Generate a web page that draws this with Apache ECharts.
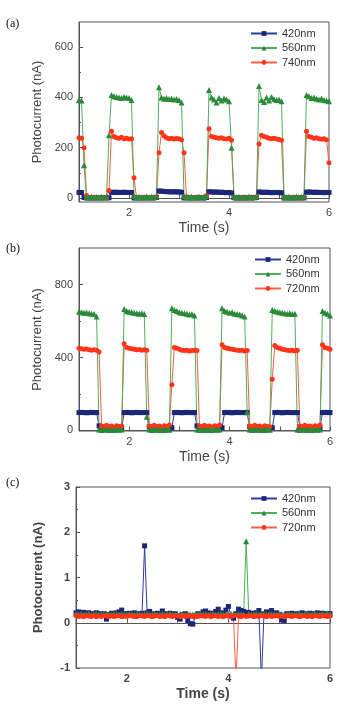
<!DOCTYPE html>
<html>
<head>
<meta charset="utf-8">
<script src="https://cdn.jsdelivr.net/npm/echarts@6/dist/echarts.min.js"></script>
<style>
html, body { margin: 0; padding: 0; background: #fff; }
#chart { width: 339px; height: 706px; }
</style>
</head>
<body>
<div id="chart"></div>
<script>
// sample times (s), shared by all three panels
const times = [
  1.00, 1.05, 1.10, 1.15, 1.20, 1.25, 1.30, 1.35, 1.40, 1.45,
  1.50, 1.55, 1.60, 1.65, 1.70, 1.75, 1.80, 1.85, 1.90, 1.95,
  2.00, 2.05, 2.10, 2.15, 2.20, 2.25, 2.30, 2.35, 2.40, 2.45,
  2.50, 2.55, 2.60, 2.65, 2.70, 2.75, 2.80, 2.85, 2.90, 2.95,
  3.00, 3.05, 3.10, 3.15, 3.20, 3.25, 3.30, 3.35, 3.40, 3.45,
  3.50, 3.55, 3.60, 3.65, 3.70, 3.75, 3.80, 3.85, 3.90, 3.95,
  4.00, 4.05, 4.10, 4.15, 4.20, 4.25, 4.30, 4.35, 4.40, 4.45,
  4.50, 4.55, 4.60, 4.65, 4.70, 4.75, 4.80, 4.85, 4.90, 4.95,
  5.00, 5.05, 5.10, 5.15, 5.20, 5.25, 5.30, 5.35, 5.40, 5.45,
  5.50, 5.55, 5.60, 5.65, 5.70, 5.75, 5.80, 5.85, 5.90, 5.95,
  6.00
];

// (a)
const a420 = [
  22, 22, 2, 0, 1, 0, 1, 0, 1, 0,
  1, 0, 1, 23, 22, 23, 22, 22, 23, 22,
  22, 22, 0, 1, 0, 1, 0, 1, 0, 1,
  0, 2, 28, 27, 26, 25, 25, 24, 25, 24,
  24, 23, 0, 1, 0, 1, 0, 1, 0, 1,
  0, 2, 25, 24, 23, 24, 22, 23, 22, 21,
  22, 20, 1, 0, 1, 0, 1, 0, 1, 0,
  1, 2, 24, 23, 22, 23, 22, 21, 22, 22,
  21, 21, 0, 1, 0, 1, 0, 1, 0, 1,
  0, 23, 24, 23, 22, 23, 22, 22, 21, 22,
  22
];
const a560 = [
  390, 388, 130, 5, 3, 6, 2, 4, 3, 5,
  4, 6, 250, 410, 405, 402, 400, 398, 402, 400,
  398, 390, 8, 3, 5, 2, 4, 6, 3, 5,
  4, 6, 440, 400, 395, 398, 394, 396, 392, 394,
  390, 380, 8, 4, 3, 5, 2, 4, 6, 3,
  5, 8, 430, 400, 392, 380, 398, 388, 396, 392,
  385, 200, 6, 3, 5, 2, 4, 3, 6, 4,
  3, 6, 445, 390, 382, 400, 388, 402, 394, 390,
  392, 385, 6, 3, 5, 2, 4, 6, 3, 5,
  8, 410, 405, 398, 400, 395, 392, 396, 390, 388,
  385
];
const a740 = [
  240, 238, 200, 10, 2, 0, 3, 1, 2, 0,
  2, 1, 30, 265, 245, 240, 238, 242, 236, 238,
  235, 236, 80, 2, 0, 2, 1, 0, 2, 1,
  0, 5, 180, 260, 248, 240, 236, 238, 235, 237,
  236, 232, 180, 5, 1, 0, 2, 0, 1, 2,
  0, 10, 275, 245, 242, 240, 238, 240, 236, 235,
  238, 230, 2, 0, 1, 2, 0, 1, 2, 0,
  1, 5, 215, 250, 245, 242, 238, 236, 238, 235,
  233, 230, 2, 0, 1, 2, 0, 1, 2, 0,
  3, 265, 245, 242, 238, 240, 236, 234, 236, 232,
  140
];

// (b)
const b420 = [
  98, 99, 98, 97, 98, 99, 98, 98, 25, 18,
  15, 16, 15, 14, 15, 16, 15, 15, 98, 99,
  98, 97, 98, 99, 98, 98, 98, 98, 20, 15,
  16, 15, 14, 15, 16, 15, 15, 15, 98, 99,
  98, 97, 98, 99, 98, 98, 98, 25, 15, 16,
  15, 14, 15, 16, 15, 15, 15, 15, 98, 99,
  98, 97, 98, 99, 98, 98, 98, 98, 20, 15,
  16, 15, 14, 15, 16, 15, 15, 15, 98, 99,
  98, 97, 98, 99, 98, 98, 98, 98, 20, 15,
  16, 15, 14, 15, 16, 15, 15, 98, 99, 98,
  98
];
const b560 = [
  650, 648, 645, 646, 642, 640, 638, 625, 5, 3,
  6, 4, 2, 5, 3, 6, 4, 5, 665, 655,
  650, 648, 645, 642, 640, 643, 638, 75, 5, 3,
  6, 4, 2, 5, 3, 6, 4, 670, 660, 655,
  648, 645, 642, 640, 635, 638, 630, 5, 3, 6,
  4, 2, 5, 3, 6, 4, 5, 670, 655, 650,
  645, 648, 640, 638, 635, 630, 625, 100, 5, 3,
  6, 4, 2, 5, 3, 6, 4, 660, 655, 650,
  648, 645, 642, 640, 643, 638, 640, 5, 3, 6,
  4, 2, 5, 3, 6, 4, 5, 655, 645, 640,
  630
];
const b720 = [
  450, 448, 445, 446, 442, 440, 443, 440, 430, 25,
  20, 28, 22, 25, 18, 26, 22, 25, 475, 455,
  450, 448, 445, 442, 444, 440, 442, 440, 25, 20,
  28, 22, 25, 18, 26, 22, 30, 250, 455, 450,
  445, 440, 438, 440, 436, 438, 440, 438, 25, 20,
  28, 22, 25, 18, 26, 22, 30, 470, 455, 450,
  448, 445, 442, 440, 438, 440, 436, 438, 25, 20,
  28, 22, 25, 18, 26, 22, 20, 280, 465, 455,
  450, 445, 442, 440, 438, 440, 436, 440, 25, 20,
  28, 22, 25, 18, 26, 22, 30, 470, 455, 450,
  445
];

// (c)
const c420 = [
  0.22, 0.24, 0.20, 0.23, 0.21, 0.22, 0.20, 0.19, 0.22, 0.20,
  0.17, 0.20, 0.08, 0.18, 0.21, 0.20, 0.22, 0.24, 0.28, 0.20,
  0.19, 0.21, 0.20, 0.22, 0.20, 0.19, 0.21, 1.70, 0.22, 0.25,
  0.20, 0.18, 0.21, 0.19, 0.26, 0.20, 0.18, 0.21, 0.19, 0.20,
  0.12, 0.08, 0.18, 0.20, 0.05, -0.02, -0.03, 0.15, 0.20, 0.18,
  0.24, 0.26, 0.22, 0.20, 0.21, 0.25, 0.30, 0.22, 0.20, 0.28,
  0.36, 0.15, 0.10, 0.20, 0.30, 0.27, 0.25, 0.22, 0.23, 0.20,
  0.21, 0.22, 0.27, -1.30, 0.20, 0.24, 0.21, 0.27, 0.20, 0.22,
  0.18, 0.06, 0.05, 0.20, 0.19, 0.21, 0.18, 0.20, 0.19, 0.22,
  0.20, 0.18, 0.21, 0.20, 0.19, 0.22, 0.20, 0.21, 0.19, 0.20,
  0.20
];
const c560 = [
  0.20, 0.19, 0.20, 0.18, 0.19, 0.20, 0.18, 0.19, 0.20, 0.18,
  0.19, 0.18, 0.20, 0.19, 0.18, 0.20, 0.19, 0.18, 0.20, 0.19,
  0.18, 0.20, 0.19, 0.18, 0.20, 0.19, 0.18, 0.19, 0.20, 0.18,
  0.19, 0.20, 0.18, 0.19, 0.20, 0.18, 0.19, 0.20, 0.18, 0.19,
  0.18, 0.20, 0.19, 0.18, 0.20, 0.19, 0.18, 0.19, 0.20, 0.18,
  0.19, 0.20, 0.18, 0.19, 0.20, 0.18, 0.19, 0.20, 0.18, 0.19,
  0.18, 0.20, 0.19, 0.18, 0.20, 0.19, 0.18, 1.80, 0.20, 0.18,
  0.19, 0.20, 0.18, 0.19, 0.20, 0.18, 0.19, 0.20, 0.18, 0.19,
  0.18, 0.20, 0.19, 0.18, 0.20, 0.19, 0.18, 0.19, 0.20, 0.18,
  0.19, 0.20, 0.18, 0.19, 0.20, 0.18, 0.19, 0.20, 0.18, 0.21,
  0.19
];
const c720 = [
  0.16, 0.14, 0.15, 0.13, 0.16, 0.15, 0.14, 0.16, 0.13, 0.15,
  0.14, 0.16, 0.15, 0.13, 0.16, 0.14, 0.15, 0.16, 0.13, 0.15,
  0.14, 0.16, 0.15, 0.14, 0.13, 0.16, 0.15, 0.14, 0.16, 0.15,
  0.13, 0.15, 0.16, 0.14, 0.15, 0.13, 0.16, 0.15, 0.14, 0.16,
  0.15, 0.13, 0.16, 0.14, 0.15, 0.16, 0.13, 0.15, 0.14, 0.16,
  0.15, 0.14, 0.16, 0.13, 0.15, 0.16, 0.14, 0.15, 0.13, 0.16,
  0.15, 0.14, 0.16, -1.30, 0.15, 0.13, 0.16, 0.14, 0.15, 0.16,
  0.13, 0.15, 0.14, 0.16, 0.15, 0.13, 0.16, 0.14, 0.15, 0.16,
  0.14, 0.15, 0.13, 0.16, 0.15, 0.14, 0.16, 0.15, 0.13, 0.15,
  0.16, 0.14, 0.15, 0.13, 0.16, 0.15, 0.14, 0.16, 0.15, 0.14,
  0.15
];

const yMajors = [[0, 200, 400, 600], [0, 400, 800], [-1, 0, 1, 2, 3]];
const yMinors = [[100, 300, 500], [200, 600], [-0.5, 0.5, 1.5, 2.5]];
const yRanges = [[-16, 700], [-3, 1000], [-1, 3]];
const panelTags = ['(a)', '(b)', '(c)'];

const SANS = 'Liberation Sans, Arial, sans-serif';
const AXIS = '#555';
const TEXT = '#444';

const look = {
  '420nm': { symbol: 'rect', size: 5, line: '#2b3c9c', mark: '#1a2778' },
  '560nm': { symbol: 'triangle', size: 6, line: '#4fae5c', mark: '#2a8a3a' },
  '740nm': { symbol: 'circle', size: 5, line: '#ff5c44', mark: '#ff3418' },
  '720nm': { symbol: 'circle', size: 5, line: '#ff5c44', mark: '#ff3418' }
};

const grids = [
  { left: 79, right: 10, top: 22, height: 180 },
  { left: 79, right: 9, top: 248, height: 183 },
  { left: 76, right: 9, top: 487, height: 181 }
];

const pts = vals => vals.map((v, i) => [times[i], v]);

function line(name, vals, g) {
  const s = look[name];
  return {
    type: 'line', name, data: pts(vals),
    xAxisIndex: g, yAxisIndex: g * 2,
    symbol: s.symbol, symbolSize: s.size,
    itemStyle: { color: s.mark },
    lineStyle: { color: s.line, width: 1 },
    emphasis: { disabled: true },
    clip: true
  };
}

const xAxes = grids.map((_, g) => ({
  type: 'value', gridIndex: g, min: 1, max: 6, interval: 1,
  name: 'Time (s)', nameLocation: 'middle', nameGap: 19,
  nameTextStyle: { fontSize: 14, color: TEXT, fontFamily: SANS, fontWeight: g === 2 ? 'bold' : 'normal' },
  axisLine: { lineStyle: { color: AXIS } },
  axisTick: { inside: true, length: 4, lineStyle: { color: AXIS } },
  axisLabel: {
    fontSize: 11, color: TEXT, fontFamily: SANS, margin: 5,
    fontWeight: g === 2 ? 'bold' : 'normal',
    formatter: v => (v % 2 === 0 ? String(v) : '')
  },
  splitLine: { show: false }
}));

const yAxes = [];
grids.forEach((_, g) => {
  yAxes.push({
    type: 'value', gridIndex: g, position: 'left',
    min: yRanges[g][0], max: yRanges[g][1],
    name: 'Photocurrent (nA)', nameLocation: 'middle', nameGap: g === 2 ? 31 : 34,
    nameTextStyle: { fontSize: 13, color: TEXT, fontFamily: SANS, fontWeight: g === 2 ? 'bold' : 'normal' },
    axisLine: { show: true, lineStyle: { color: AXIS } },
    axisTick: { inside: true, length: 4, customValues: yMajors[g], lineStyle: { color: AXIS } },
    axisLabel: { customValues: yMajors[g], fontSize: 11, color: TEXT, fontFamily: SANS, margin: 6, fontWeight: g === 2 ? 'bold' : 'normal' },
    splitLine: { show: false }
  });
  yAxes.push({
    type: 'value', gridIndex: g, position: 'left',
    min: yRanges[g][0], max: yRanges[g][1],
    axisLine: { show: false },
    axisTick: { inside: true, length: 2, customValues: yMinors[g], lineStyle: { color: AXIS } },
    axisLabel: { show: false },
    splitLine: { show: false }
  });
});

const legendPos = [
  { left: 250, top: 28, names: ['420nm', '560nm', '740nm'] },
  { left: 254, top: 254, names: ['420nm', '560nm', '720nm'] },
  { left: 250, top: 493, names: ['420nm', '560nm', '720nm'] }
];

const legends = legendPos.map(p => ({
  orient: 'vertical', left: p.left, top: p.top, padding: 0,
  itemWidth: 26, itemHeight: 6, itemGap: 3.5, selectedMode: false,
  data: p.names,
  textStyle: { fontSize: 11, lineHeight: 11, color: '#333', fontFamily: SANS }
}));

const series = [
  line('420nm', a420, 0), line('740nm', a740, 0), line('560nm', a560, 0),
  line('420nm', b420, 1), line('720nm', b720, 1), line('560nm', b560, 1),
  line('420nm', c420, 2), line('560nm', c560, 2), line('720nm', c720, 2)
];

const tagTops = [18, 243, 477];
const graphic = panelTags.map((t, i) => ({
  type: 'text', left: 6, top: tagTops[i],
  style: { text: t, fontSize: 12, fill: '#111', fontFamily: 'Liberation Serif, serif' }
}));

const chart = echarts.init(document.getElementById('chart'));
chart.setOption({
  animation: false,
  backgroundColor: '#fff',
  grid: grids.map(gr => Object.assign({ show: true, borderColor: AXIS, borderWidth: 1, backgroundColor: 'transparent' }, gr)),
  xAxis: xAxes,
  yAxis: yAxes,
  legend: legends,
  graphic,
  series
});
</script>
</body>
</html>
